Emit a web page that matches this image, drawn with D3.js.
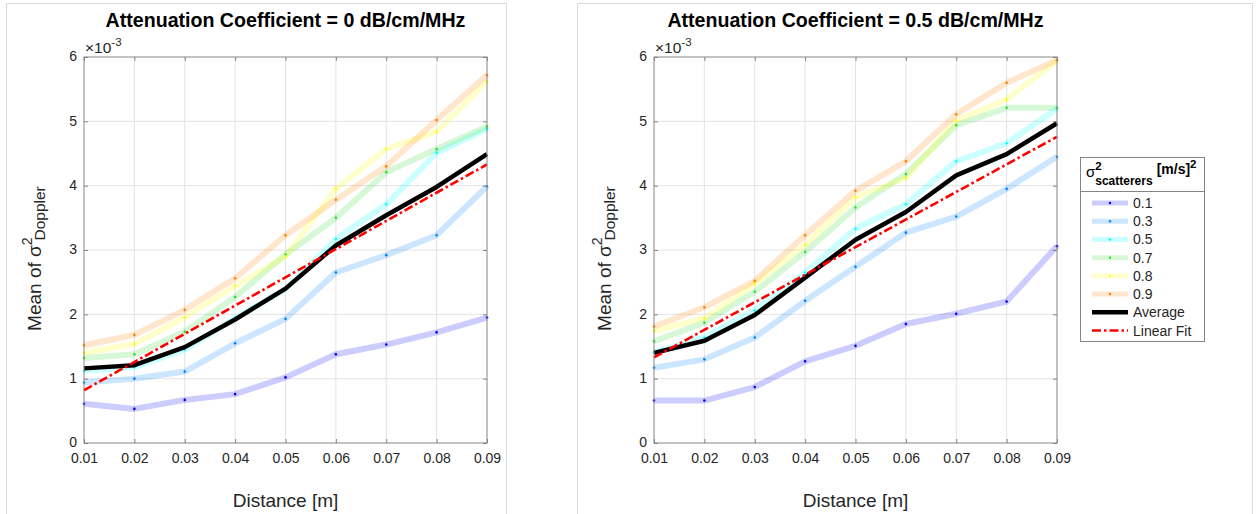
<!DOCTYPE html>
<html><head><meta charset="utf-8">
<script src="https://cdn.jsdelivr.net/npm/d3@7"></script>
<style>
body{margin:0;background:#fff;}
svg{display:block;}
text{font-family:"Liberation Sans", Arial, Helvetica, sans-serif;}
</style>
</head><body>
<svg id="chart" width="1258" height="514"></svg>
<script>
// ---------- DATA (values in units of 1e-3) ----------
const distances = [0.01, 0.02, 0.03, 0.04, 0.05, 0.06, 0.07, 0.08, 0.09];
const xTickLabels = ["0.01","0.02","0.03","0.04","0.05","0.06","0.07","0.08","0.09"];
const yTickValues = [0, 1, 2, 3, 4, 5, 6];
const yTickLabels = ["0","1","2","3","4","5","6"];
const seriesNames = ["0.1", "0.3", "0.5", "0.7", "0.8", "0.9"];
const seriesColors = ["#0000ff", "#0080ff", "#00ffff", "#33dd33", "#ffff00", "#ff8000"];
const titles = ["Attenuation Coefficient = 0 dB/cm/MHz", "Attenuation Coefficient = 0.5 dB/cm/MHz"];

// Left panel: attenuation 0 dB/cm/MHz
const left01 = [0.61, 0.53, 0.67, 0.76, 1.02, 1.38, 1.53, 1.72, 1.95];
const left03 = [0.94, 1.00, 1.11, 1.55, 1.93, 2.65, 2.92, 3.23, 3.99];
const left05 = [1.12, 1.18, 1.45, 1.94, 2.39, 3.17, 3.71, 4.51, 4.88];
const left07 = [1.32, 1.38, 1.73, 2.27, 2.93, 3.50, 4.21, 4.57, 4.92];
const left08 = [1.40, 1.54, 1.95, 2.44, 2.90, 3.95, 4.57, 4.84, 5.62];
const left09 = [1.52, 1.68, 2.07, 2.56, 3.23, 3.78, 4.30, 5.02, 5.72];
const leftAverage = [1.16, 1.21, 1.49, 1.92, 2.40, 3.07, 3.54, 3.98, 4.49];
const leftFit = [0.82, 4.33];   // at 0.01 and 0.09

// Right panel: attenuation 0.5 dB/cm/MHz
const right01 = [0.66, 0.66, 0.87, 1.27, 1.51, 1.85, 2.01, 2.20, 3.06];
const right03 = [1.17, 1.30, 1.64, 2.21, 2.74, 3.27, 3.52, 3.95, 4.45];
const right05 = [1.41, 1.64, 2.06, 2.65, 3.33, 3.71, 4.38, 4.66, 5.20];
const right07 = [1.58, 1.87, 2.35, 2.97, 3.66, 4.18, 4.94, 5.21, 5.21];
const right08 = [1.74, 1.94, 2.48, 3.08, 3.82, 4.12, 5.01, 5.34, 5.94];
const right09 = [1.81, 2.11, 2.52, 3.23, 3.92, 4.38, 5.11, 5.60, 5.95];
const rightAverage = [1.40, 1.59, 1.99, 2.57, 3.16, 3.59, 4.16, 4.49, 4.97];
const rightFit = [1.33, 4.76];  // at 0.01 and 0.09

// ---------- DRAWING ----------
const svg = d3.select("#chart");
const AX = "#858585";
const TXT = "#262626";
const GRID = "#e4e4e4";

function drawPanel(cfg) {
  const g = svg.append("g");
  const f = cfg.frame;
  g.append("path")
    .attr("d", `M${f.x0},${f.y1}V${f.y0}H${f.x1}V${f.y1}`)
    .attr("fill", "none").attr("stroke", "#dadada").attr("stroke-width", 1);

  const x = d3.scaleLinear().domain([distances[0], distances[distances.length - 1]]).range([cfg.x0, cfg.x1]);
  const y = d3.scaleLinear().domain([yTickValues[0], yTickValues[yTickValues.length - 1]]).range([cfg.y1, cfg.y0]);

  // grid
  g.append("g").selectAll("line").data(distances.slice(1, -1)).join("line")
    .attr("x1", d => x(d)).attr("x2", d => x(d)).attr("y1", cfg.y0).attr("y2", cfg.y1)
    .attr("stroke", GRID).attr("stroke-width", 1);
  g.append("g").selectAll("line").data(yTickValues.slice(1, -1)).join("line")
    .attr("x1", cfg.x0).attr("x2", cfg.x1).attr("y1", d => y(d)).attr("y2", d => y(d))
    .attr("stroke", GRID).attr("stroke-width", 1);

  const line = d3.line().x((d, i) => x(distances[i])).y(d => y(d));

  cfg.series.forEach((vals, k) => {
    g.append("path").attr("d", line(vals)).attr("fill", "none")
      .attr("stroke", seriesColors[k]).attr("stroke-opacity", 0.2)
      .attr("stroke-width", 6).attr("stroke-linejoin", "round");
  });
  cfg.series.forEach((vals, k) => {
    g.append("g").selectAll("circle").data(vals).join("circle")
      .attr("cx", (d, i) => x(distances[i])).attr("cy", d => y(d))
      .attr("r", 1.3).attr("fill", seriesColors[k]);
  });

  // average
  g.append("path").attr("d", line(cfg.average)).attr("fill", "none")
    .attr("stroke", "#000").attr("stroke-width", 4.5).attr("stroke-linejoin", "round");
  // linear fit
  const fitX = [distances[0], distances[distances.length - 1]];
  g.append("path")
    .attr("d", d3.line().x((d, i) => x(fitX[i])).y(d => y(d))(cfg.fit))
    .attr("fill", "none").attr("stroke", "#ff0000").attr("stroke-width", 2.6)
    .attr("stroke-dasharray", "9,3,2.5,3");

  // box
  g.append("rect").attr("x", cfg.x0).attr("y", cfg.y0)
    .attr("width", cfg.x1 - cfg.x0).attr("height", cfg.y1 - cfg.y0)
    .attr("fill", "none").attr("stroke", AX).attr("stroke-width", 1);

  function styleAxis(sel) {
    sel.select(".domain").remove();
    sel.selectAll("line").attr("stroke", AX);
    sel.attr("font-family", '"Liberation Sans", Arial, sans-serif').attr("font-size", 14);
    sel.selectAll("text").attr("fill", TXT);
  }
  const gx = g.append("g").attr("transform", `translate(0,${cfg.y1})`)
    .call(d3.axisBottom(x).tickValues(distances).tickFormat((d, i) => xTickLabels[i])
      .tickSizeInner(-4).tickSizeOuter(0).tickPadding(10));
  styleAxis(gx);
  const gxt = g.append("g").attr("transform", `translate(0,${cfg.y0})`)
    .call(d3.axisTop(x).tickValues(distances).tickFormat("").tickSizeInner(-4).tickSizeOuter(0));
  styleAxis(gxt);
  const gy = g.append("g").attr("transform", `translate(${cfg.x0},0)`)
    .call(d3.axisLeft(y).tickValues(yTickValues).tickFormat((d, i) => yTickLabels[i])
      .tickSizeInner(-4).tickSizeOuter(0).tickPadding(7));
  styleAxis(gy);
  gy.selectAll(".tick text").attr("dy", "0.28em");
  const gyr = g.append("g").attr("transform", `translate(${cfg.x1},0)`)
    .call(d3.axisRight(y).tickValues(yTickValues).tickFormat("").tickSizeInner(-4).tickSizeOuter(0));
  styleAxis(gyr);

  // exponent label
  const ex = g.append("text").attr("x", cfg.x0 + 1).attr("y", cfg.y0 - 4.5)
    .attr("font-size", 15.5).attr("fill", TXT);
  ex.append("tspan").text("\u00d710");
  ex.append("tspan").attr("font-size", 11.5).attr("dy", -7).text("-3");

  // title
  g.append("text").attr("x", (cfg.x0 + cfg.x1) / 2).attr("y", 27)
    .attr("text-anchor", "middle").attr("font-weight", "bold").attr("font-size", 19.6)
    .attr("fill", "#000").text(cfg.title);

  // x label
  g.append("text").attr("x", (cfg.x0 + cfg.x1) / 2).attr("y", 507)
    .attr("text-anchor", "middle").attr("font-size", 19).attr("fill", TXT).text("Distance [m]");

  // y label (rotated), σ with superscript 2 and subscript Doppler
  const yl = g.append("text").attr("font-size", 19).attr("fill", TXT);
  yl.append("tspan").text("Mean of \u03c3");
  const sup = yl.append("tspan").attr("font-size", 14).attr("dy", -9).text("2");
  const supW = sup.node().getComputedTextLength();
  yl.append("tspan").attr("font-size", 15.5).attr("dx", -supW * 0.4).attr("dy", 13).text("Doppler");
  const w = yl.node().getComputedTextLength();
  yl.attr("transform", `translate(${cfg.x0 - 43},${(cfg.y0 + cfg.y1) / 2 + 7 + w / 2}) rotate(-90)`);
}

drawPanel({
  frame: {x0: 6.5, x1: 506.5, y0: 3.5, y1: 520},
  x0: 84, x1: 487, y0: 57, y1: 443,
  title: titles[0],
  series: [left01, left03, left05, left07, left08, left09],
  average: leftAverage, fit: leftFit
});
drawPanel({
  frame: {x0: 577.5, x1: 1252.5, y0: 3.5, y1: 520},
  x0: 654, x1: 1057, y0: 57, y1: 443,
  title: titles[1],
  series: [right01, right03, right05, right07, right08, right09],
  average: rightAverage, fit: rightFit
});

// ---------- LEGEND ----------
(function () {
  const L = {x0: 1080.5, y0: 157.5, x1: 1204.5, y1: 341.5, sep: 191.5};
  const g = svg.append("g");
  g.append("rect").attr("x", L.x0).attr("y", L.y0).attr("width", L.x1 - L.x0).attr("height", L.y1 - L.y0)
    .attr("fill", "#fff").attr("stroke", AX);
  g.append("line").attr("x1", L.x0).attr("x2", L.x1).attr("y1", L.sep).attr("y2", L.sep).attr("stroke", AX);

  const h = g.append("text").attr("x", 1086).attr("y", 177).attr("font-size", 15).attr("fill", "#000");
  h.append("tspan").text("\u03c3");
  const s2 = h.append("tspan").attr("font-size", 11.5).attr("font-weight", "bold").attr("dy", -7).text("2");
  const s2w = s2.node().getComputedTextLength();
  h.append("tspan").attr("font-size", 12).attr("font-weight", "bold").attr("dx", -s2w).attr("dy", 15).text("scatterers");
  h.append("tspan").attr("font-size", 14).attr("font-weight", "bold").attr("dx", 4).attr("dy", -11).text("[m/s]");
  h.append("tspan").attr("font-size", 11.5).attr("font-weight", "bold").attr("dy", -6).text("2");

  const rowY = d3.scaleLinear().domain([0, 7]).range([203, 330.5]);
  const entries = seriesNames.map((n, k) => ({name: n, color: seriesColors[k], type: "series"}))
    .concat([{name: "Average", type: "avg"}, {name: "Linear Fit", type: "fit"}]);
  entries.forEach((e, i) => {
    const yy = rowY(i);
    if (e.type === "series") {
      g.append("line").attr("x1", 1092).attr("x2", 1128).attr("y1", yy).attr("y2", yy)
        .attr("stroke", e.color).attr("stroke-opacity", 0.2).attr("stroke-width", 5);
      g.append("circle").attr("cx", 1110).attr("cy", yy).attr("r", 1.2).attr("fill", e.color);
    } else if (e.type === "avg") {
      g.append("line").attr("x1", 1092).attr("x2", 1128).attr("y1", yy).attr("y2", yy)
        .attr("stroke", "#000").attr("stroke-width", 4.5);
    } else {
      g.append("line").attr("x1", 1092).attr("x2", 1128).attr("y1", yy).attr("y2", yy)
        .attr("stroke", "#ff0000").attr("stroke-width", 2.6).attr("stroke-dasharray", "9,3,2.5,3");
    }
    g.append("text").attr("x", 1133).attr("y", yy + 5).attr("font-size", 14).attr("fill", TXT).text(e.name);
  });
})();
</script>
</body></html>
